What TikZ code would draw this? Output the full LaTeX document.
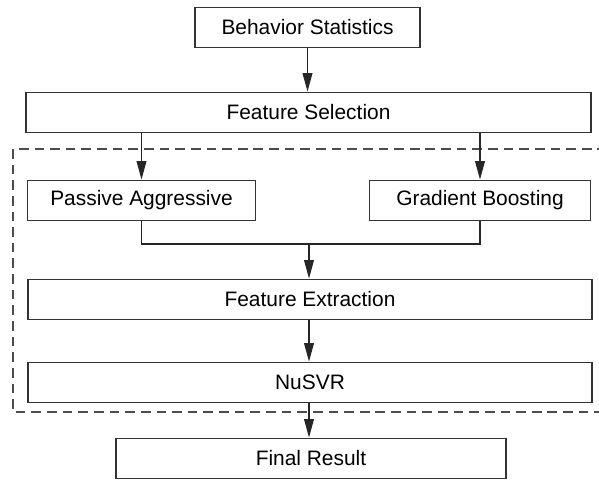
\documentclass[tikz,border=0pt]{standalone}
\usepackage{fontspec}
\setmainfont{Liberation Sans}
\usetikzlibrary{arrows.meta}

\begin{document}
\begin{tikzpicture}[x=0.02cm,y=-0.02cm,
    blk/.style={draw=black!80,line width=1.1pt,inner sep=0pt,minimum height=0.8cm,
        font=\fontsize{11.9}{14}\selectfont},
    arr/.style={draw=black!85,line width=0.6pt,-{Triangle[length=10.5pt,width=5.6pt]}},
    ln/.style={draw=black!85,line width=0.6pt}]
        \useasboundingbox (0,0) rectangle (599,480);
        \draw[black!70,line width=0.9pt,dash pattern=on 5.5pt off 3.4pt] (13,149) rectangle (610,412);
        \node[blk,minimum width=4.5cm] (bs) at (307.5,27.5) {Behavior Statistics};
        \node[blk,minimum width=11.32cm] (fs) at (308.5,112.5) {Feature Selection};
        \node[blk,minimum width=4.56cm] (pa) at (141.5,200.5) {Passive Aggressive};
        \node[blk,minimum width=4.42cm] (gb) at (480,200.5) {Gradient Boosting};
        \node[blk,minimum width=11.3cm] (fe) at (310,299.5) {Feature Extraction};
        \node[blk,minimum width=11.3cm] (nu) at (310,382.5) {NuSVR};
        \node[blk,minimum width=7.82cm] (fr) at (311,458.5) {Final Result};
        \coordinate (join) at (309,244);
        \draw[arr] (bs.south) -- (bs.south |- fs.north);
        \draw[arr] (fs.south -| pa.north) -- (pa.north);
        \draw[arr] (fs.south -| gb.north) -- (gb.north);
        \draw[ln] (pa.south) |- (join) -| (gb.south);
        \draw[arr] (join) -- (join |- fe.north);
        \draw[arr] (fe.south -| join) -- (nu.north -| join);
        \draw[arr] (nu.south -| join) -- (fr.north -| join);
\end{tikzpicture}
\end{document}
